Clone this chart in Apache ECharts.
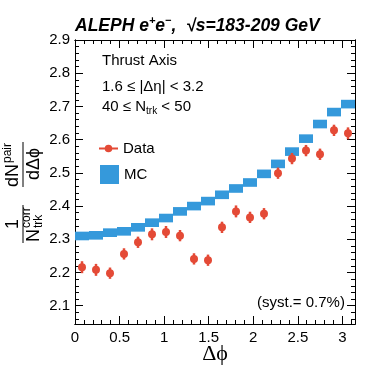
<!DOCTYPE html>
<html>
<head>
<meta charset="UTF-8">
<title>ALEPH thrust axis</title>
<script src="https://cdn.jsdelivr.net/npm/echarts@6/dist/echarts.min.js"></script>
<style>
*{margin:0;padding:0}
html,body{width:100%;height:100%;background:#fff}
#main{width:374px;height:369px}
</style>
</head>
<body>
<div id="main"></div>
<script>
// 20 bins in delta phi, 0..pi
var nBins = 20;
var phiMax = Math.PI;
var mcVals = [2.310, 2.312, 2.320, 2.324, 2.336, 2.350, 2.364, 2.384, 2.400, 2.415,
              2.434, 2.453, 2.471, 2.497, 2.527, 2.564, 2.603, 2.647, 2.683, 2.707];
var mcErr = [0.013, 0.013, 0.013, 0.013, 0.013, 0.013, 0.013, 0.013, 0.013, 0.013,
             0.013, 0.013, 0.013, 0.013, 0.013, 0.013, 0.013, 0.013, 0.013, 0.013];
var dataVals = [2.216, 2.208, 2.198, 2.256, 2.291, 2.315, 2.322, 2.311, 2.241, 2.237,
                2.336, 2.384, 2.366, 2.377, 2.499, 2.543, 2.567, 2.556, 2.628, 2.619];
var dataErr = [0.018, 0.018, 0.017, 0.017, 0.017, 0.018, 0.018, 0.017, 0.017, 0.017,
               0.017, 0.018, 0.017, 0.017, 0.017, 0.017, 0.017, 0.017, 0.017, 0.018];

var RED = '#e44a36';
var BLUE = '#3599db';
var FONT = 'Liberation Sans';

var binW = phiMax / nBins;
var mcData = [], ptData = [], errData = [];
for (var i = 0; i < nBins; i++) {
    var lo = i * binW, hi = (i + 1) * binW, c = (i + 0.5) * binW;
    mcData.push([lo, hi, mcVals[i], mcErr[i]]);
    ptData.push([c, dataVals[i]]);
    errData.push([c, dataVals[i], dataErr[i]]);
}

// axes: major + minor ticks, mirrored on top / right
function xAx(pos, interval, len, label) {
    return {
        type: 'value', position: pos, min: 0, max: phiMax, interval: interval,
        axisLine: {show: true, onZero: false, lineStyle: {color: '#000', width: 1}},
        axisTick: {show: true, inside: true, length: len, lineStyle: {color: '#000'}},
        axisLabel: {show: label, margin: 6, fontSize: 15, fontFamily: FONT, color: '#000',
                    showMaxLabel: false},
        splitLine: {show: false}
    };
}
function yAx(pos, split, len, label) {
    return {
        type: 'value', position: pos, min: 2.045, max: 2.9, splitNumber: split,
        axisLine: {show: true, onZero: false, lineStyle: {color: '#000', width: 1}},
        axisTick: {show: true, inside: true, length: len, lineStyle: {color: '#000'}},
        axisLabel: {show: label, margin: 5, fontSize: 15, fontFamily: FONT, color: '#000',
                    showMinLabel: false,
                    formatter: function (v) { return v.toFixed(1); }},
        splitLine: {show: false}
    };
}

function renderMC(params, api) {
    var p1 = api.coord([api.value(0), api.value(2) + api.value(3)]);
    var p2 = api.coord([api.value(1), api.value(2) - api.value(3)]);
    return {type: 'rect', shape: {x: p1[0], y: p1[1], width: p2[0] - p1[0], height: p2[1] - p1[1]},
            style: {fill: BLUE}};
}
function renderErr(params, api) {
    var x = api.value(0), v = api.value(1), e = api.value(2);
    var a = api.coord([x, v + e]), b = api.coord([x, v - e]);
    return {type: 'line', shape: {x1: a[0], y1: a[1], x2: b[0], y2: b[1]},
            style: {stroke: RED, lineWidth: 2.5}};
}

function txt(x, y, s, size, extra) {
    var st = {text: s, x: 0, y: 0, fontSize: size, fontFamily: FONT, fill: '#000',
              verticalAlign: 'middle', textVerticalAlign: 'middle'};
    for (var k in extra) st[k] = extra[k];
    return {type: 'text', x: x, y: y, style: st, z: 10};
}

var option = {
    animation: false,
    grid: {left: 75, top: 40, width: 280, height: 284, containLabel: false},
    xAxis: [xAx('bottom', 0.5, 8, true), xAx('bottom', 0.1, 4, false),
            xAx('top', 0.5, 8, false), xAx('top', 0.1, 4, false)],
    yAxis: [yAx('left', 8, 8, true), yAx('left', 40, 4, false),
            yAx('right', 8, 8, false), yAx('right', 40, 4, false)],
    legend: [
        {data: [{name: 'Data', icon: 'path://M0,4H20V6H0Z M14,5A4,4 0 1,1 6,5A4,4 0 1,1 14,5Z'}],
         left: 94, top: 136, itemWidth: 19, itemHeight: 10, itemGap: 0,
         textStyle: {fontSize: 15, fontFamily: FONT, color: '#000'}},
        {data: [{name: 'MC', icon: 'rect'}],
         left: 95, top: 160, itemWidth: 19, itemHeight: 19, itemGap: 0,
         textStyle: {fontSize: 15, fontFamily: FONT, color: '#000'}}
    ],
    series: [
        {name: 'MC', type: 'custom', renderItem: renderMC, data: mcData,
         encode: {x: [0, 1], y: 2}, itemStyle: {color: BLUE}, z: 2},
        {name: 'Data', type: 'custom', renderItem: renderErr, data: errData,
         encode: {x: 0, y: 1}, itemStyle: {color: RED}, z: 3},
        {name: 'Data', type: 'scatter', data: ptData, symbol: 'circle', symbolSize: 8,
         itemStyle: {color: RED, opacity: 1}, z: 4}
    ],
    graphic: [
        txt(75, 26, '{b|ALEPH e}{s|+}{b|e}{s|\u2212}{b|,  \u221As=183-209 GeV}', 17.5, {rich: {
            b: {fontSize: 17.5, fontWeight: 'bold', fontStyle: 'italic', fontFamily: FONT},
            s: {fontSize: 11, fontWeight: 'bold', fontStyle: 'italic', fontFamily: FONT, padding: [0, 0, 10, 0]}
        }}),
        txt(102, 61, 'Thrust Axis', 15),
        txt(102, 87, '1.6 \u2264 |\u0394\u03b7| < 3.2', 15),
        txt(102, 107, '40 \u2264 N{sub|trk} < 50', 15, {rich: {
            sub: {fontSize: 10, fontFamily: FONT, padding: [9, 0, 0, 0]}
        }}),
        txt(257, 303, '(syst.= 0.7%)', 15),
        txt(215, 354, '\u0394\u03d5', 22, {fontFamily: 'Liberation Serif', align: 'center', textAlign: 'center'}),
        // rotated y-axis title: 1/N^corr_trk dN^pair/d(dphi)
        {type: 'group', x: 23, y: 245, rotation: Math.PI / 2, children: [
            {type: 'line', shape: {x1: 2, y1: 0, x2: 40, y2: 0}, style: {stroke: '#000', lineWidth: 1}},
            {type: 'line', shape: {x1: 58, y1: 0, x2: 103, y2: 0}, style: {stroke: '#000', lineWidth: 1}},
            txt(21, -10, '1', 18, {align: 'center', textAlign: 'center'}),
            txt(3, 11, 'N', 18, {}),
            txt(17, 4, 'corr', 12, {}),
            txt(17, 16, 'trk', 12, {}),
            txt(58, -10, 'dN', 18, {}),
            txt(82, -15, 'pair', 12, {}),
            txt(81, 11, 'd\u0394\u03d5', 18, {align: 'center', textAlign: 'center'})
        ]}
    ]
};

var myChart = echarts.init(document.getElementById('main'));
myChart.setOption(option);
</script>
</body>
</html>
